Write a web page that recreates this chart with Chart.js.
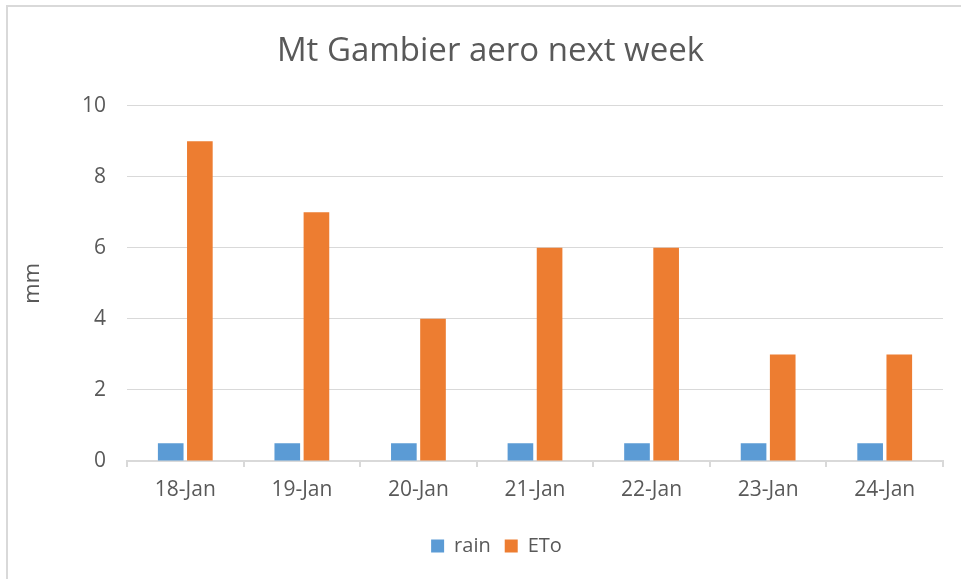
<!DOCTYPE html>
<html>
<head>
<meta charset="utf-8">
<script src="https://cdn.jsdelivr.net/npm/chart.js@4.4.1/dist/chart.umd.min.js"></script>
<style>
  html, body { margin: 0; padding: 0; background: #fff; }
  #wrap { position: relative; width: 961px; height: 579px; overflow: hidden; }
  #frame { position: absolute; left: 6px; top: 5px; width: 1000px; height: 700px; border: 2px solid #d9d9d9; box-sizing: border-box; }
  canvas { position: absolute; left: 0; top: 0; }
</style>
</head>
<body>
<div id="wrap">
  <div id="frame"></div>
  <canvas id="myChart" width="961" height="579"></canvas>
</div>
<script>
// values
var days = ['18-Jan', '19-Jan', '20-Jan', '21-Jan', '22-Jan', '23-Jan', '24-Jan'];
var rain = [0.5, 0.5, 0.5, 0.5, 0.5, 0.5, 0.5];
var eto = [9, 7, 4, 6, 6, 3, 3];
var yTicks = [0, 2, 4, 6, 8, 10];

var txt = '#595959';
var grid = '#d9d9d9';
var font = '"Open Sans", Calibri, sans-serif';

ctx = document.getElementById('myChart');

// the original chart is wider than the crop, so title and legend sit right of our centre
var shiftBoxes = {
    id: 'shiftBoxes',
    afterLayout: function (chart) {
        chart.legend.left += 25;
        chart.legend.right += 25;
        chart.titleBlock.left += 19;
        chart.titleBlock.right += 19;
    }
};

data = {
    labels: days,
    datasets: [
        {
            label: 'rain',
            data: rain,
            backgroundColor: '#5b9bd5',
            categoryPercentage: 0.5,
            barPercentage: 0.88
        }, {
            label: 'ETo',
            data: eto,
            backgroundColor: '#ed7d31',
            categoryPercentage: 0.5,
            barPercentage: 0.88
        }
    ]
};

config = {
    type: 'bar',
    data: data,
    plugins: [shiftBoxes],
    options: {
        responsive: false,
        animation: false,
        layout: { padding: { left: 0, right: 18, top: 0, bottom: 13 } },
        plugins: {
            title: {
                display: true,
                text: 'Mt Gambier aero next week',
                color: txt,
                font: { family: font, size: 33, weight: 'normal' },
                padding: { top: 32, bottom: 34 }
            },
            legend: {
                position: 'bottom',
                labels: {
                    color: txt,
                    font: { family: font, size: 20 },
                    boxWidth: 13,
                    boxHeight: 13,
                    padding: 14
                }
            },
            tooltip: { enabled: false }
        },
        scales: {
            x: {
                afterFit: function (scale) { scale.height = 61; },
                grid: { drawOnChartArea: false, drawTicks: true, tickLength: 6, color: grid, lineWidth: 2 },
                border: { color: grid, width: 2 },
                ticks: { color: txt, font: { family: font, size: 21 }, padding: 10 }
            },
            y: {
                min: 0,
                max: 10,
                afterBuildTicks: function (scale) {
                    scale.ticks = yTicks.map(function (v) { return { value: v }; });
                },
                afterFit: function (scale) { scale.width = 127; },
                grid: { drawTicks: false, color: grid, lineWidth: 1 },
                border: { display: false },
                ticks: { color: txt, font: { family: font, size: 21 }, padding: 21 },
                title: {
                    display: true,
                    text: 'mm',
                    color: txt,
                    font: { family: font, size: 22 },
                    padding: { top: 20, bottom: 0 }
                }
            }
        }
    }
};

myChart = new Chart(ctx, config);
</script>
</body>
</html>
